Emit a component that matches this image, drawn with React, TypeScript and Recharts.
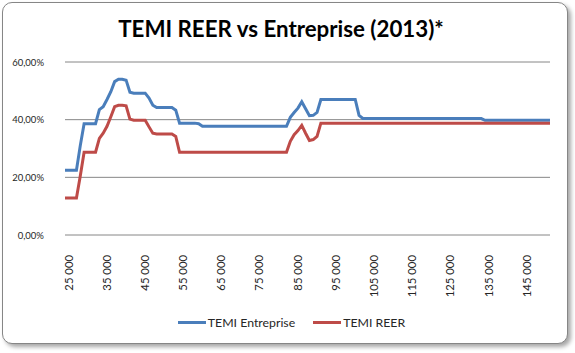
import React from 'react';
import { LineChart, Line, XAxis, YAxis, CartesianGrid, Legend } from 'recharts';

const incomes = [
  25000, 26000, 27000, 28000, 29000, 30000, 31000, 32000, 33000, 34000,
  35000, 36000, 37000, 38000, 39000, 40000, 41000, 42000, 43000, 44000,
  45000, 46000, 47000, 48000, 49000, 50000, 51000, 52000, 53000, 54000,
  55000, 56000, 57000, 58000, 59000, 60000, 61000, 62000, 63000, 64000,
  65000, 66000, 67000, 68000, 69000, 70000, 71000, 72000, 73000, 74000,
  75000, 76000, 77000, 78000, 79000, 80000, 81000, 82000, 83000, 84000,
  85000, 86000, 87000, 88000, 89000, 90000, 91000, 92000, 93000, 94000,
  95000, 96000, 97000, 98000, 99000, 100000, 101000, 102000, 103000, 104000,
  105000, 106000, 107000, 108000, 109000, 110000, 111000, 112000, 113000, 114000,
  115000, 116000, 117000, 118000, 119000, 120000, 121000, 122000, 123000, 124000,
  125000, 126000, 127000, 128000, 129000, 130000, 131000, 132000, 133000, 134000,
  135000, 136000, 137000, 138000, 139000, 140000, 141000, 142000, 143000, 144000,
  145000, 146000, 147000, 148000, 149000, 150000, 151000, 152000,
];

// percent values
const temiEntreprise = [
  22.5, 22.5, 22.5, 22.5, 31.0, 38.6, 38.6, 38.6, 38.6, 43.5,
  44.5, 47.0, 49.7, 53.2, 54.0, 54.0, 53.7, 49.5, 49.2, 49.2,
  49.2, 49.2, 47.5, 45.0, 44.2, 44.2, 44.2, 44.2, 44.2, 43.3,
  38.8, 38.8, 38.8, 38.8, 38.8, 38.6, 37.7, 37.7, 37.7, 37.7,
  37.7, 37.7, 37.7, 37.7, 37.7, 37.7, 37.7, 37.7, 37.7, 37.7,
  37.7, 37.7, 37.7, 37.7, 37.7, 37.7, 37.7, 37.7, 37.7, 40.8,
  42.5, 44.0, 46.2, 43.8, 41.4, 41.5, 42.5, 47.0, 47.0, 47.0,
  47.0, 47.0, 47.0, 47.0, 47.0, 47.0, 47.0, 41.5, 40.4, 40.4,
  40.4, 40.4, 40.4, 40.4, 40.4, 40.4, 40.4, 40.4, 40.4, 40.4,
  40.4, 40.4, 40.4, 40.4, 40.4, 40.4, 40.4, 40.4, 40.4, 40.4,
  40.4, 40.4, 40.4, 40.4, 40.4, 40.4, 40.4, 40.4, 40.4, 40.4,
  39.8, 39.8, 39.8, 39.8, 39.8, 39.8, 39.8, 39.8, 39.8, 39.8,
  39.8, 39.8, 39.8, 39.8, 39.8, 39.8, 39.8, 39.8,
];

const temiReer = [
  12.8, 12.8, 12.8, 12.8, 20.5, 28.7, 28.7, 28.7, 28.7, 33.5,
  35.3, 37.7, 41.0, 44.5, 45.0, 45.0, 44.8, 40.2, 39.8, 39.8,
  39.8, 39.8, 37.5, 35.3, 35.0, 35.0, 35.0, 35.0, 35.0, 34.2,
  28.7, 28.7, 28.7, 28.7, 28.7, 28.7, 28.7, 28.7, 28.7, 28.7,
  28.7, 28.7, 28.7, 28.7, 28.7, 28.7, 28.7, 28.7, 28.7, 28.7,
  28.7, 28.7, 28.7, 28.7, 28.7, 28.7, 28.7, 28.7, 28.7, 32.5,
  34.8, 36.2, 38.0, 35.3, 32.8, 33.1, 34.2, 38.8, 38.8, 38.8,
  38.8, 38.8, 38.8, 38.8, 38.8, 38.8, 38.8, 38.8, 38.8, 38.8,
  38.8, 38.8, 38.8, 38.8, 38.8, 38.8, 38.8, 38.8, 38.8, 38.8,
  38.8, 38.8, 38.8, 38.8, 38.8, 38.8, 38.8, 38.8, 38.8, 38.8,
  38.8, 38.8, 38.8, 38.8, 38.8, 38.8, 38.8, 38.8, 38.8, 38.8,
  38.8, 38.8, 38.8, 38.8, 38.8, 38.8, 38.8, 38.8, 38.8, 38.8,
  38.8, 38.8, 38.8, 38.8, 38.8, 38.8, 38.8, 38.8,
];

const xTicks = [25000, 35000, 45000, 55000, 65000, 75000, 85000, 95000, 105000, 115000, 125000, 135000, 145000];
const yTicks = [0, 0.2, 0.4, 0.6];

const seriesNames = ['TEMI Entreprise', 'TEMI REER'];
const seriesColors = ['#4A7EBB', '#BE4B48'];
const title = 'TEMI REER vs Entreprise (2013)*';

const data = incomes.map((inc, i) => ({
  income: inc,
  entreprise: temiEntreprise[i] / 100,
  reer: temiReer[i] / 100,
}));

const FONT = 'Lato, "Open Sans", sans-serif';

const fmtY = (v: number) => (v * 100).toFixed(2).replace('.', ',') + '%';
const fmtX = (v: number) => {
  const s = String(v);
  return s.slice(0, s.length - 3) + ' ' + s.slice(s.length - 3);
};

const YTick = (props: any) => {
  const { x, y, payload } = props;
  return (
    <text x={x} y={y} textAnchor="end" dominantBaseline="central" fontSize={9.5} fill="#262626" fontFamily={FONT}>
      {fmtY(payload.value)}
    </text>
  );
};

const XTick = (props: any) => {
  const { x, y, payload } = props;
  const tx = x + 3;
  const ty = y + 12;
  return (
    <text
      x={tx}
      y={ty}
      transform={`rotate(-90, ${tx}, ${ty})`}
      textAnchor="end"
      dominantBaseline="central"
      fontSize={11.3}
      fill="#262626"
      fontFamily={FONT}
    >
      {fmtX(payload.value)}
    </text>
  );
};

const LegendContent = () => (
  <div style={{ display: 'flex', justifyContent: 'center', alignItems: 'center', height: 24, fontFamily: FONT, fontSize: 12.3, color: '#262626' }}>
    {seriesNames.map((n, i) => (
      <div key={n} style={{ display: 'flex', alignItems: 'center', marginLeft: i === 0 ? 0 : 18 }}>
        <div style={{ width: 28, height: 3, background: seriesColors[i], marginRight: 2 }} />
        <span>{n}</span>
      </div>
    ))}
  </div>
);

export default function App() {
  return (
    <div style={{ position: 'absolute', left: 0, top: 0, width: 575, height: 353, background: '#fff' }}>
      <div
        style={{
          position: 'absolute',
          left: 2,
          top: 2,
          width: 564,
          height: 340,
          border: '1px solid #868686',
          borderRadius: 10,
          boxShadow: '3px 3px 4px rgba(0,0,0,0.35)',
          background: '#fff',
        }}
      />
      <svg width={575} height={60} style={{ position: 'absolute', left: 0, top: 0 }}>
        <text x={281} y={37} textAnchor="middle" fontFamily={FONT} fontWeight="bold" fontSize={22.3} fill="#000">
          {title}
        </text>
      </svg>
      <div style={{ position: 'absolute', left: 0, top: 0 }}>
        <LineChart width={575} height={353} data={data} margin={{ top: 62, right: 25, left: 0, bottom: 19 }}>
          <CartesianGrid vertical={false} stroke="#868686" strokeWidth={1} />
          <XAxis
            dataKey="income"
            type="number"
            domain={[25000, 152000]}
            ticks={xTicks}
            axisLine={false}
            tickLine={false}
            height={75}
            tick={<XTick />}
            interval={0}
          />
          <YAxis
            type="number"
            domain={[0, 0.6]}
            ticks={yTicks}
            axisLine={false}
            tickLine={false}
            width={65}
            tickSize={6}
            tickMargin={15}
            tick={<YTick />}
          />
          <Legend
            verticalAlign="bottom"
            content={<LegendContent />}
            wrapperStyle={{ height: 24, left: 0, width: 575, paddingLeft: 4 }}
          />
          <Line
            type="linear"
            dataKey="entreprise"
            name={seriesNames[0]}
            stroke={seriesColors[0]}
            strokeWidth={3}
            dot={false}
            isAnimationActive={false}
          />
          <Line
            type="linear"
            dataKey="reer"
            name={seriesNames[1]}
            stroke={seriesColors[1]}
            strokeWidth={3}
            dot={false}
            isAnimationActive={false}
          />
        </LineChart>
      </div>
    </div>
  );
}
